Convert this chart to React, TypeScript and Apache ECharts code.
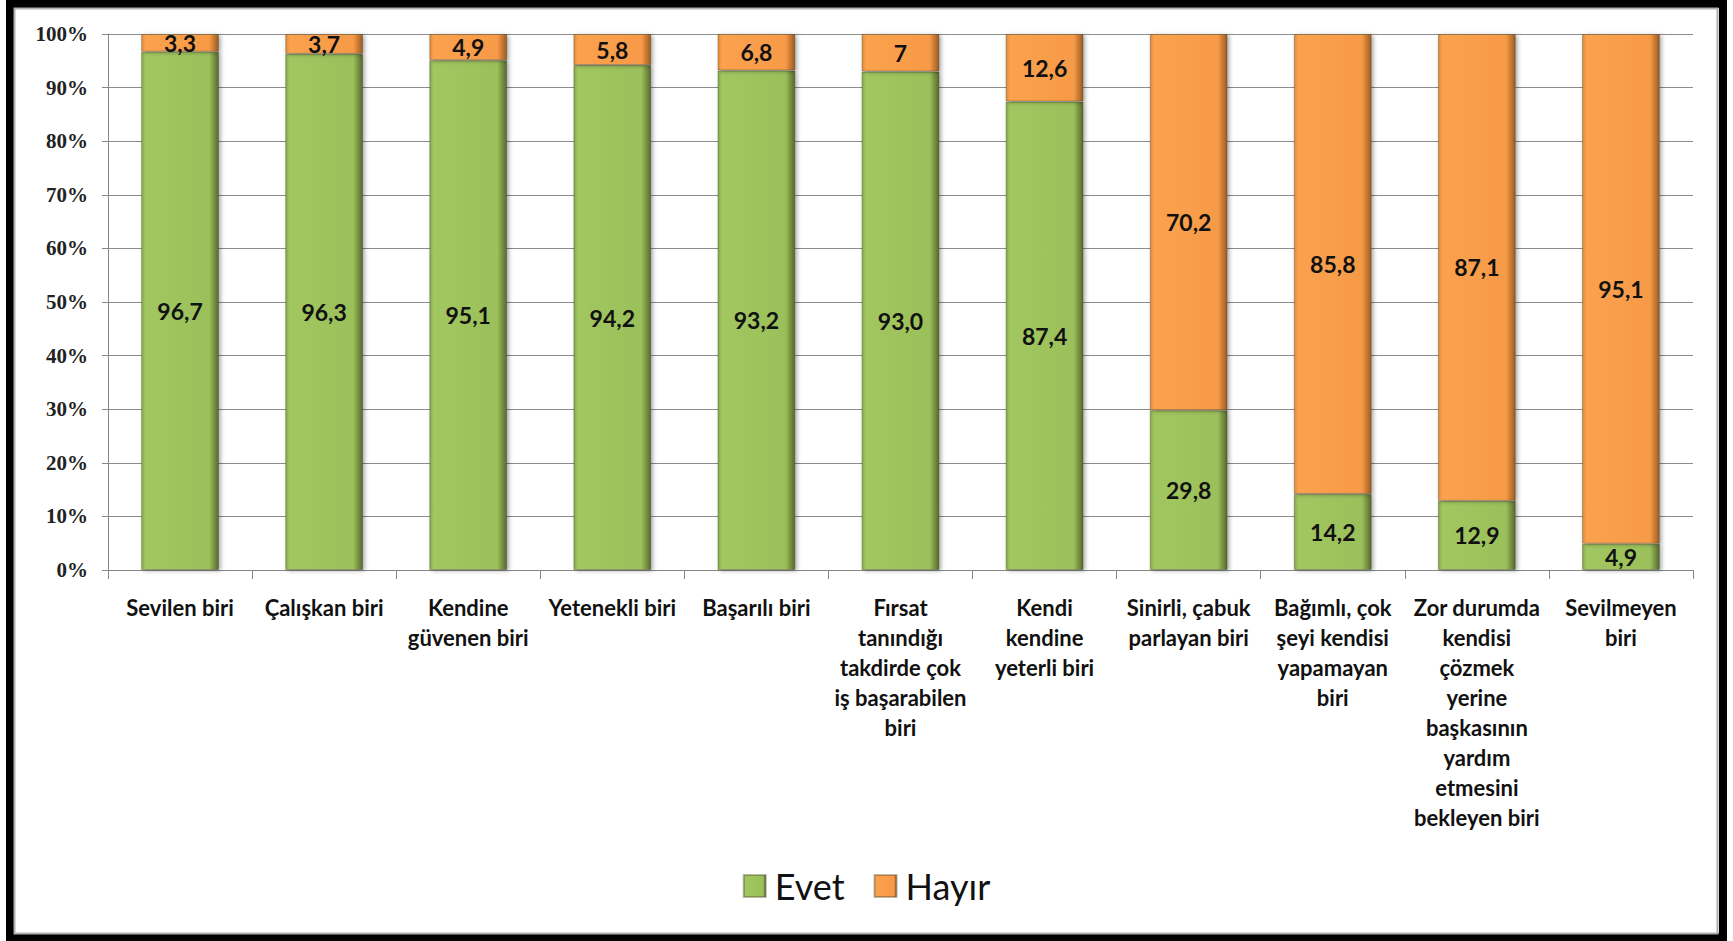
import React, { useEffect, useRef } from "react";
import * as echarts from "echarts";

const categories = [
  "Sevilen biri",
  "Çalışkan biri",
  "Kendine\ngüvenen biri",
  "Yetenekli biri",
  "Başarılı biri",
  "Fırsat\ntanındığı\ntakdirde çok\niş başarabilen\nbiri",
  "Kendi\nkendine\nyeterli biri",
  "Sinirli, çabuk\nparlayan biri",
  "Bağımlı, çok\nşeyi kendisi\nyapamayan\nbiri",
  "Zor durumda\nkendisi\nçözmek\nyerine\nbaşkasının\nyardım\netmesini\nbekleyen biri",
  "Sevilmeyen\nbiri",
];

const evet = [96.7, 96.3, 95.1, 94.2, 93.2, 93.0, 87.4, 29.8, 14.2, 12.9, 4.9];
const hayir = [3.3, 3.7, 4.9, 5.8, 6.8, 7, 12.6, 70.2, 85.8, 87.1, 95.1];

const yTicks = [0, 10, 20, 30, 40, 50, 60, 70, 80, 90, 100];

const W = 1733;
const H = 941;

export default function App() {
  const ref = useRef<HTMLDivElement>(null);
  useEffect(() => {
    if (!ref.current) return;
    const chart = echarts.init(ref.current, null, { renderer: "svg" });
    const green = new echarts.graphic.LinearGradient(0, 0, 1, 0, [
      { offset: 0, color: "#86a74a" },
      { offset: 0.05, color: "#a2c760" },
      { offset: 0.88, color: "#9bc05a" },
      { offset: 1, color: "#55692e" },
    ]);
    const orange = new echarts.graphic.LinearGradient(0, 0, 1, 0, [
      { offset: 0, color: "#e0893c" },
      { offset: 0.05, color: "#fba24f" },
      { offset: 0.88, color: "#f79a47" },
      { offset: 1, color: "#9c5b22" },
    ]);
    const labelStyle = {
      show: true,
      position: "inside" as const,
      color: "#111",
      fontFamily: "Lato",
      fontWeight: "bold" as const,
      fontSize: 23,
    };
    const barShadow = {
      borderColor: "rgba(60,60,30,0.35)",
      borderWidth: 1,
      shadowColor: "rgba(0,0,0,0.35)",
      shadowBlur: 4,
      shadowOffsetX: 2,
      shadowOffsetY: 1,
    };
    chart.setOption({
      animation: false,
      backgroundColor: "#ffffff",
      grid: { left: 108, right: 40, top: 34, bottom: 371 },
      legend: {
        bottom: 32,
        left: "center",
        icon: "rect",
        itemWidth: 22,
        itemHeight: 22,
        itemGap: 29,
        textStyle: {
          fontFamily: "Lato",
          fontSize: 36,
          color: "#111",
          padding: [0, 0, 0, 4],
        },
        data: ["Evet", "Hayır"],
      },
      xAxis: {
        type: "category",
        data: categories,
        axisLine: { show: true, lineStyle: { color: "#868686", width: 1 } },
        axisTick: { show: true, length: 9, lineStyle: { color: "#868686" } },
        axisLabel: {
          interval: 0,
          margin: 22,
          fontFamily: "Lato",
          fontWeight: "bold",
          fontSize: 22,
          lineHeight: 30,
          color: "#111",
        },
      },
      yAxis: {
        type: "value",
        min: 0,
        max: 100,
        interval: 10,
        axisLine: { show: true, lineStyle: { color: "#868686" } },
        axisTick: { show: true, inside: false, length: 6, lineStyle: { color: "#868686" } },
        splitLine: { show: true, lineStyle: { color: "#8c8c8c", width: 1 } },
        axisLabel: {
          margin: 20,
          fontFamily: "Liberation Serif",
          fontWeight: "bold",
          fontSize: 21,
          color: "#222",
          formatter: (v: number) => (yTicks.includes(v) ? v + "%" : ""),
        },
      },
      series: [
        {
          name: "Evet",
          type: "bar",
          stack: "total",
          barWidth: "54%",
          data: evet,
          itemStyle: { color: green, ...barShadow },
          label: {
            ...labelStyle,
            formatter: (p: any) => Number(p.value).toFixed(1).replace(".", ","),
          },
        },
        {
          name: "Hayır",
          type: "bar",
          stack: "total",
          barWidth: "54%",
          data: hayir,
          itemStyle: { color: orange, ...barShadow },
          label: {
            ...labelStyle,
            formatter: (p: any) => String(p.value).replace(".", ","),
          },
        },
      ],
      graphic: [
        {
          type: "rect",
          silent: true,
          shape: { x: 10, y: 4, width: 1713, height: 933 },
          style: { fill: "none", stroke: "#000", lineWidth: 8 },
          z: 100,
        },
        {
          type: "rect",
          silent: true,
          shape: { x: 14.5, y: 8.5, width: 1703, height: 925 },
          style: { fill: "none", stroke: "#b0b0b0", lineWidth: 2 },
          z: 100,
        },
      ],
    });
    return () => chart.dispose();
  }, []);
  return (
    <div
      ref={ref}
      style={{ position: "fixed", left: 0, top: 0, width: W, height: H }}
    />
  );
}
